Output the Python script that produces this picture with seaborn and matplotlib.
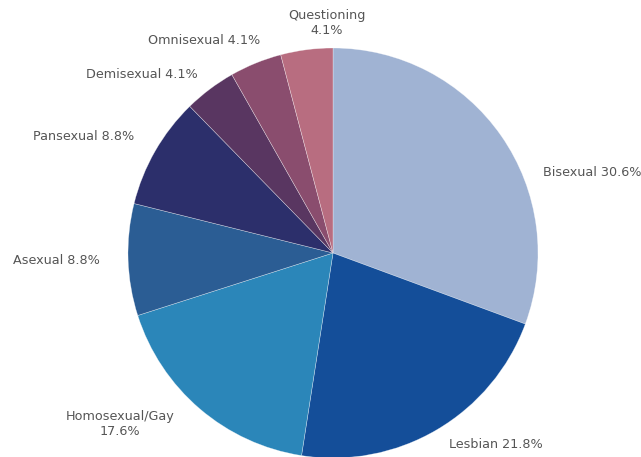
import matplotlib
matplotlib.use("Agg")
import matplotlib.pyplot as plt
import seaborn as sns

categories = ["Bisexual", "Lesbian", "Homosexual/Gay", "Asexual", "Pansexual",
              "Demisexual", "Omnisexual", "Questioning"]
values = [30.6, 21.8, 17.6, 8.8, 8.8, 4.1, 4.1, 4.1]
labels = ["Bisexual 30.6%", "Lesbian 21.8%", "Homosexual/Gay\n17.6%", "Asexual 8.8%",
          "Pansexual 8.8%", "Demisexual 4.1%", "Omnisexual 4.1%", "Questioning\n4.1%"]
colors = ["#A0B3D3", "#144E99", "#2B86B9", "#2B5D94", "#2C2F6B",
          "#593661", "#8A4D6E", "#B86D80"]

sns.set_theme(style="white")
plt.rcParams['font.family'] = ['DejaVu Sans']

W, H = 641, 457
fig = plt.figure(figsize=(W / 100, H / 100), dpi=100)
ax = fig.add_axes([0, 0, 1, 1])

cx, cy, r = 333, 253, 205
ax.pie(values, colors=sns.color_palette(colors), startangle=90, counterclock=False,
       center=(cx, H - cy), radius=r,
       wedgeprops=dict(linewidth=0.4, edgecolor=(1, 1, 1, 0.5)))

# label positions (pixel coords: x, y-from-top, ha)
label_pos = [(543, 173, "left"), (496, 444, "center"), (120, 424, "center"),
             (13, 260, "left"), (33, 137, "left"), (198, 75, "right"),
             (204, 41, "center"), (327, 23, "center")]
for lab, (x, y, ha) in zip(labels, label_pos):
    ax.text(x, H - y, lab, ha=ha, va="center", fontsize=9.2, color="#555555",
            linespacing=1.2)

ax.set_xlim(0, W)
ax.set_ylim(0, H)
ax.set_aspect("equal")
ax.axis("off")
fig.savefig("out.png", dpi=100, facecolor="white")
